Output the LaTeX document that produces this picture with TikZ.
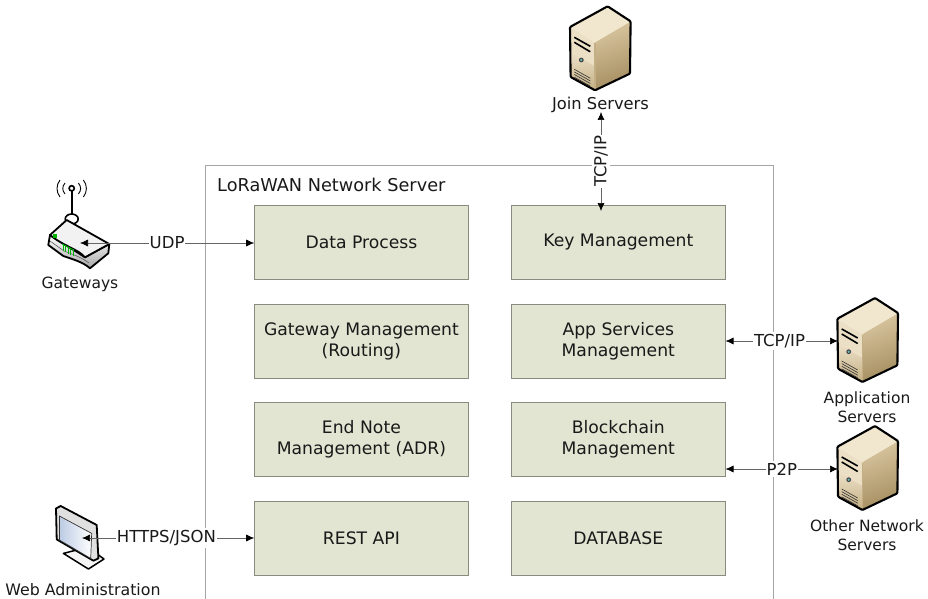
\documentclass[tikz,border=0pt]{standalone}
\usepackage{fontspec}
\setmainfont{DejaVu Sans}
\usetikzlibrary{matrix, arrows.meta}
\definecolor{boxfill}{HTML}{E2E5D2}
\definecolor{boxline}{HTML}{8A8A80}
\definecolor{frameline}{HTML}{A6A6A6}
\definecolor{arrowline}{HTML}{666666}
\definecolor{tantop}{HTML}{F1E6CE}
\definecolor{tanfront}{HTML}{EBDFC6}
\definecolor{tanfrontd}{HTML}{C4AF84}
\definecolor{tanside}{HTML}{D9C6A0}
\definecolor{tansided}{HTML}{A58E60}
\definecolor{screenblue}{HTML}{BCCBE4}
\tikzset{
  txt/.style={font=\fontsize{15.5}{19.5}\selectfont, text=black!90, align=center, inner sep=0pt},
  block/.style={txt, font=\fontsize{17.2}{21}\selectfont, draw=boxline, fill=boxfill, minimum width=214pt, minimum height=74pt},
  lbl/.style={txt, font=\fontsize{16.5}{20}\selectfont, fill=white, inner xsep=1pt, inner ysep=2pt},
  link/.style={draw=arrowline, line width=.6pt, {Latex[black,length=8pt,width=7pt]}-{Latex[black,length=8pt,width=7pt]}},
  serverpic/.pic={
    \fill[tanfront] (-30.3,-21.3) -- (-5.3,-6) -- (-5.3,42) -- (-29.7,28.7) -- cycle;
    \shade[top color=tanside, bottom color=tansided, shading angle=20] (-5.3,-6) -- (30.3,-27) -- (29.7,25.3) -- (-5.3,42) -- cycle;
    \shade[top color=tanfront, bottom color=tanfrontd] (-28,5) -- (-5.3,18) -- (-5.3,42) -- (-29.7,28.7) -- cycle;
    \fill[tantop] (-30.3,-21.3) -- (7.3,-42) -- (30.3,-27) -- (-5.3,-6) -- cycle;
    \draw[line width=1.6pt, tanfrontd] (-5.3,-5) -- (-5.3,41);
    \draw[line width=1.6pt] (-26,-11) -- (-10,-2);
    \draw[line width=1.6pt] (-26,-6) -- (-10,3.5);
    \fill[black!75] (-19,11.7) circle (2.4pt);
    \fill[teal!60] (-19,11.7) circle (1.4pt);
    \foreach \vy in {0,2.6,5.2,7.8} {
      \draw[line width=.6pt, black!80] (-26,21+\vy) -- (-10,30+\vy);
    }
    \draw[line width=2.1pt, line join=round, rounded corners=1pt] (-30.3,-21.3) -- (7.3,-42) -- (30.3,-27) -- (29.7,25.3) -- (-5.3,42) -- (-29.7,28.7) -- cycle;
  },
  routerpic/.pic={
    \draw[line width=.9pt] (-10,-62) .. controls (-13,-58) and (-13,-55) .. (-10,-51);
    \draw[line width=.9pt] (3.4,-62) .. controls (6.4,-58) and (6.4,-55) .. (3.4,-51);
    \draw[line width=.9pt] (-15,-65) .. controls (-19,-60) and (-19,-53) .. (-15,-48);
    \draw[line width=.9pt] (8.4,-65) .. controls (12.4,-60) and (12.4,-53) .. (8.4,-48);
    \filldraw[fill=white, line width=1.6pt] (-3.3,-56.7) circle (2.6pt);
    \draw[line width=2pt] (-3.3,-54) -- (-3.3,-28);
    \filldraw[fill=white, line width=1.6pt] (-3.3,-26) ellipse (6.5pt and 5pt);
    \shade[top color=white, bottom color=black!35, draw=black, line width=1.8pt, line join=round]
      (-25,-10) -- (-26.7,0) -- (-11.7,11) .. controls (-3,14) and (8,17) .. (15,23.3) -- (33.3,8.3) -- (34.3,-1) -- (10,12.3) -- cycle;
    \draw[black!70, line width=.5pt] (-25,-4) -- (-11,6) .. controls (-3,9) and (6,12) .. (14,18);
    \filldraw[fill=black!5, draw=black, line width=1.8pt, line join=round] (-25,-10) -- (-8.3,-25) -- (34.3,-1) -- (10,12.3) .. controls (3,4) and (-10,2) .. cycle;
    \fill[green!70!black] (-22,-11) rectangle (-18,-7);
    \draw[green!70!black, line width=.8pt] (-13,-1) -- (-1,5);
    \foreach \gx in {-12,-9.5,-7,-4.5,-2} {
      \draw[green!70!black, line width=.8pt] (\gx,{0.5*\gx+5}) -- (\gx,{0.5*\gx+12});
    }
  },
  monitorpic/.pic={
    \filldraw[fill=black!4, draw=black, line width=1.5pt, line join=round] (-13.3,16.7) -- (11.7,32.3) -- (27.3,22.3) -- (20,17) -- (5,12) -- cycle;
    \filldraw[fill=black!12, draw=black, line width=1.8pt, line join=round] (-20.7,-28.3) -- (-16,-30.7) -- (20,-11.7) -- (21.7,21.7) -- (16.7,24) -- (-20,2.7) -- cycle;
    \shade[left color=screenblue, right color=white, draw=black!80, line width=.7pt] (-17.3,-20.7) -- (15,-3.3) -- (14,21.7) -- (-17.3,3.3) -- cycle;
  }
}

\begin{document}
\begin{tikzpicture}[x=1pt, y=-1pt]
\useasboundingbox (0,0) rectangle (928,599);
\draw[frameline, line width=.8pt] (205,599) -- (205,165.5) -- (773,165.5) -- (773,599);
\node[txt, font=\fontsize{17.7}{21}\selectfont, anchor=west] (title) at (217,185) {LoRaWAN Network Server};
\matrix (m) [anchor=north west, inner sep=0pt, column sep=42.5pt, row sep=24.2pt] at (254,205) {
\node[block](dp){Data Process}; & \node[block](km){Key Management}; \\
\node[block](gm){Gateway Management\\(Routing)}; & \node[block](asm){App Services\\Management}; \\
\node[block](en){End Note\\Management (ADR)}; & \node[block](bm){Blockchain\\Management}; \\
\node[block](ra){REST API}; & \node[block](db){DATABASE}; \\
};
\pic at (600.3,48.3) {serverpic};
\pic at (867.7,340) {serverpic};
\pic at (867.7,468) {serverpic};
\pic at (75,245) {routerpic};
\pic at (76.7,536.7) {monitorpic};
\node[txt, font=\fontsize{16.3}{20}\selectfont] (jsl) at (600.5,105) {Join Servers};
\node[txt] (gwl) at (80,284) {Gateways};
\node[txt, font=\fontsize{15.8}{20}\selectfont] (wal) at (83,590) {Web Administration};
\node[txt] (asl) at (867,407) {Application\\Servers};
\node[txt] (osl) at (867,535) {Other Network\\Servers};
\coordinate (js) at (601,112);
\coordinate (kmt) at (601,211);
\coordinate (gw) at (80,243);
\coordinate (wa) at (82,538);
\coordinate (as) at (838,341);
\coordinate (os) at (838,469);
\draw[link] (js) -- (kmt) node[lbl, rotate=90, pos=.5]{TCP/IP};
\draw[link] (gw) -- (dp.west |- gw) node[lbl, pos=.5]{UDP};
\draw[link] (wa) -- (ra.west |- wa) node[lbl, pos=.49]{HTTPS/JSON};
\draw[link] (asm.east |- as) -- (as) node[lbl, pos=.48]{TCP/IP};
\draw[link] (bm.east |- os) -- (os) node[lbl, pos=.5]{P2P};
\end{tikzpicture}
\end{document}
